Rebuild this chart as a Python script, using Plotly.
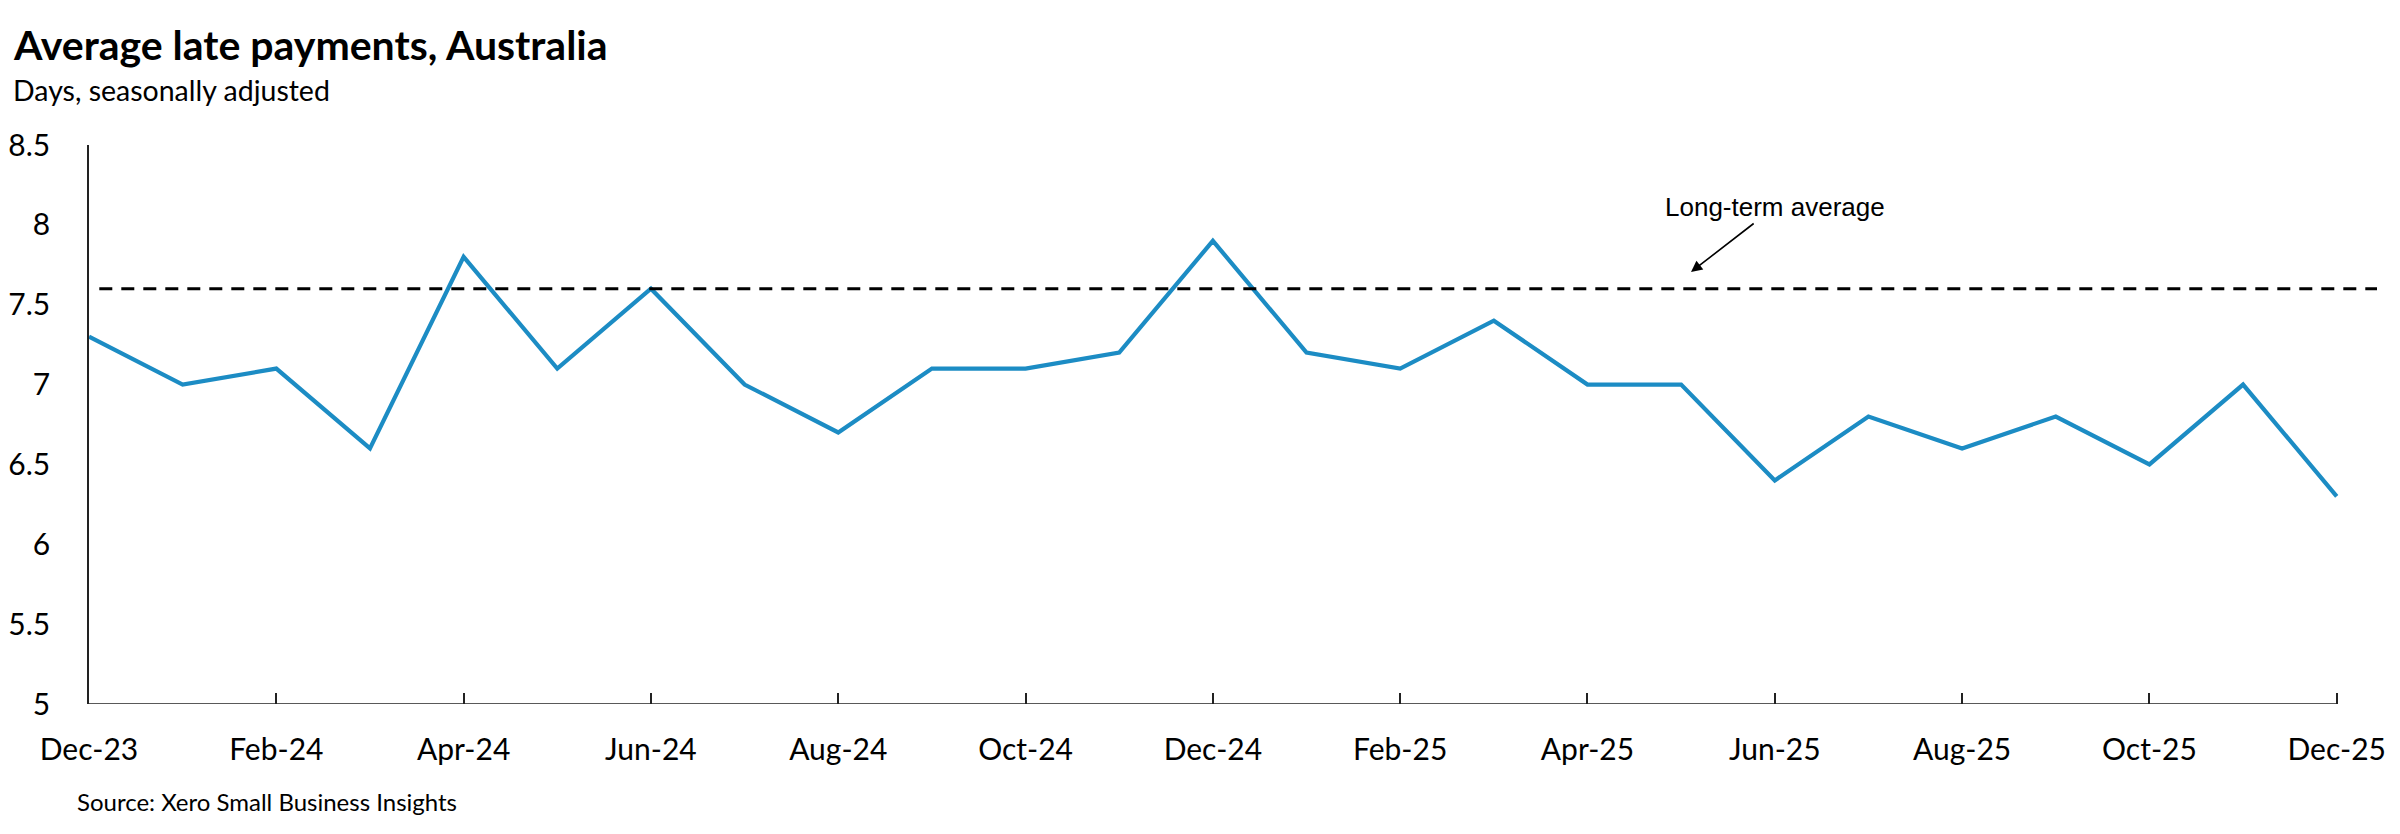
import plotly.graph_objects as go

# ---- data ----
months = ["Dec-23", "Jan-24", "Feb-24", "Mar-24", "Apr-24", "May-24", "Jun-24",
          "Jul-24", "Aug-24", "Sep-24", "Oct-24", "Nov-24", "Dec-24", "Jan-25",
          "Feb-25", "Mar-25", "Apr-25", "May-25", "Jun-25", "Jul-25", "Aug-25",
          "Sep-25", "Oct-25", "Nov-25", "Dec-25"]
late_days = [7.3, 7.0, 7.1, 6.6, 7.8, 7.1, 7.6, 7.0, 6.7, 7.1, 7.1, 7.2, 7.9,
             7.2, 7.1, 7.4, 7.0, 7.0, 6.4, 6.8, 6.6, 6.8, 6.5, 7.0, 6.3]
long_term_avg = 7.6
y_ticks = [5, 5.5, 6, 6.5, 7, 7.5, 8, 8.5]
x_tick_labels = months[::2]

TITLE = "Average late payments, Australia"
SUBTITLE = "Days, seasonally adjusted"
SOURCE = "Source: Xero Small Business Insights"
LTA_LABEL = "Long-term average"

W, H = 2400, 834
OFF = 8  # page body margin of the html page
# target page positions of the plot area
PL, PR, PT, PB = 89, 2377, 145, 704
L, T = PL - OFF, PT - OFF
R = W - (PR - OFF)
B = H - (PB - OFF)
FONT = "Lato"
BLUE = "#1C8CC4"

n = len(months)
x_max = (n - 1) + 0.43

fig = go.Figure()
fig.add_trace(go.Scatter(
    x=months, y=late_days, mode="lines",
    line=dict(color=BLUE, width=4.2), showlegend=False, hoverinfo="x+y"))

plot_w = PR - PL
plot_h = PB - PT

def px_x(p):
    return (p - PL) / plot_w

def px_y(p):
    return (PB - p) / plot_h

fig.update_layout(
    width=W, height=H,
    margin=dict(l=L, r=R, t=T, b=B, autoexpand=False),
    paper_bgcolor="white", plot_bgcolor="white",
    font=dict(family=FONT, color="black"),
    showlegend=False,
    xaxis=dict(
        type="category", range=[0, x_max], automargin=False,
        showgrid=False, zeroline=False, showline=False,
        tickmode="array", tickvals=x_tick_labels, ticktext=x_tick_labels,
        ticks="inside", ticklen=11, tickwidth=1.5, tickcolor="#222",
        tickfont=dict(family=FONT, size=30, color="black"),
        ticklabelstandoff=25,
    ),
    yaxis=dict(
        range=[y_ticks[0], y_ticks[-1]], automargin=False,
        tickvals=y_ticks,
        showgrid=False, zeroline=False,
        showline=True, linecolor="#222", linewidth=1.5,
        ticks="",
        tickfont=dict(family=FONT, size=30, color="black"),
        ticklabelstandoff=31,
    ),
)

# x axis line ending at the last month
fig.add_shape(type="line", xref="x", yref="y",
              x0=0, x1=n - 1, y0=y_ticks[0], y1=y_ticks[0],
              line=dict(color="#222", width=1.5))

# long-term average dashed line
fig.add_shape(type="line", xref="x", yref="y",
              x0=0.11, x1=x_max, y0=long_term_avg, y1=long_term_avg,
              line=dict(color="black", width=3, dash="13px,9px"))

# title, subtitle, source
fig.add_annotation(text=f"<b>{TITLE}</b>", xref="paper", yref="paper",
                   x=px_x(11), y=px_y(45), xanchor="left", yanchor="middle",
                   showarrow=False, font=dict(family=FONT, size=41, color="black"))
fig.add_annotation(text=SUBTITLE, xref="paper", yref="paper",
                   x=px_x(11), y=px_y(90), xanchor="left", yanchor="middle",
                   showarrow=False, font=dict(family=FONT, size=28.5, color="black"))
fig.add_annotation(text=SOURCE, xref="paper", yref="paper",
                   x=px_x(75), y=px_y(801), xanchor="left", yanchor="middle",
                   showarrow=False, font=dict(family=FONT, size=24, color="black"))

# long-term average label with arrow
fig.add_annotation(text=LTA_LABEL, xref="paper", yref="paper",
                   x=px_x(1691), y=px_y(272), ax=84, ay=-65,
                   showarrow=True, arrowhead=2, arrowsize=1.4, arrowwidth=1.6,
                   arrowcolor="black",
                   font=dict(family="Liberation Sans", size=26, color="black"))

fig.write_html("out.html")
